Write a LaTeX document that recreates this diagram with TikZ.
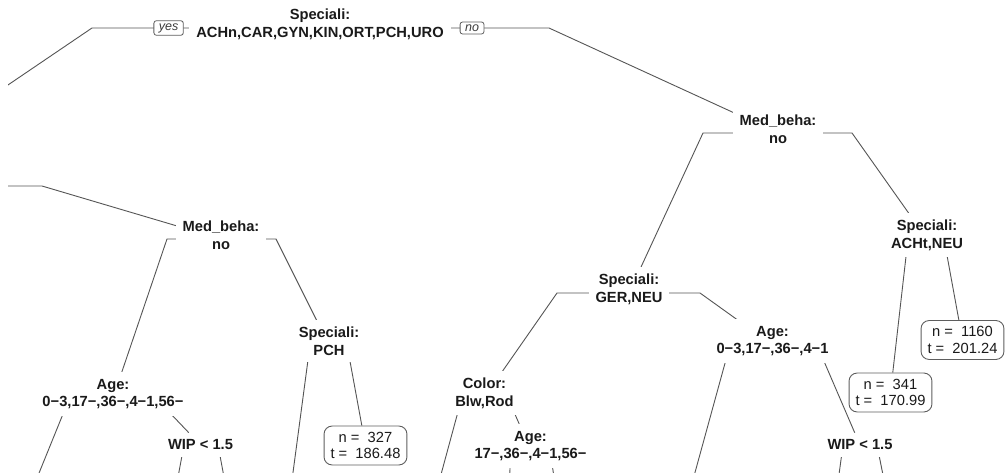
\documentclass[tikz,border=0pt]{standalone}
\usepackage{fontspec}
\setmainfont{Liberation Sans}
\usetikzlibrary{backgrounds}
\definecolor{ink}{HTML}{1A1A1A}
\definecolor{wire}{HTML}{555555}
\definecolor{frame}{HTML}{5E5E5E}
\definecolor{muted}{HTML}{3C3C3C}
\tikzset{
  every node/.style={text=ink},
  split/.style={fill=white, align=center, inner xsep=7pt, inner ysep=7pt,
    font=\bfseries\fontsize{14.7}{17.7}\selectfont},
  leaf/.style={draw=frame, fill=white, line width=0.9pt, rounded corners=8pt, align=center,
    inner xsep=6.5pt, inner ysep=6pt, font=\fontsize{14.7}{16.5}\selectfont},
  tag/.style={draw=frame, fill=white, line width=0.8pt, rounded corners=2.5pt,
    inner xsep=5pt, inner ysep=2.6pt, font=\itshape\fontsize{12.5}{14}\selectfont, text=muted},
  branch/.style={draw=wire, line width=0.9pt},
}

\begin{document}
\begin{tikzpicture}[x=1pt, y=-1pt]
  \useasboundingbox (0,0) rectangle (1005,473);

  % ---------------------------------------------------------------- splits
  \node[split] (root) at (320,24) {Speciali:\\ACHn,CAR,GYN,KIN,ORT,PCH,URO};

  \node[split] (medL) at (221,235) {Med\_beha:\\no};
  \node[split] (pchL) at (329,341) {Speciali:\\PCH};
  \node[split] (ageL) at (113,394) {Age:\\0−3,17−,36−,4−1,56−};
  \node[split] (wipL) at (200.5,445) {WIP < 1.5};

  \node[split] (medR) at (778,129) {Med\_beha:\\no};
  \node[split] (gerR) at (629,289) {Speciali:\\GER,NEU};
  \node[split] (achR) at (927,235) {Speciali:\\ACHt,NEU};
  \node[split] (colR) at (484.5,393) {Color:\\Blw,Rod};
  \node[split] (ageM) at (530.5,446) {Age:\\17−,36−,4−1,56−};
  \node[split] (ageR) at (772.5,341) {Age:\\0−3,17−,36−,4−1};
  \node[split] (wipR) at (860,445) {WIP < 1.5};

  % ---------------------------------------------------------------- leaves
  \node[leaf] (n327) at (365.5,445.5) {n = \ 327\\t = \ 186.48};
  \node[leaf] (n341) at (890.5,392.5) {n = \ 341\\t = \ 170.99};
  \node[leaf] (n1160) at (962.5,340) {n = \ 1160\\t = \ 201.24};

  % ---------------------------------------------------------------- branches
  \begin{pgfonlayer}{background}
    \fill[white] (0,0) rectangle (1005,473);
    \clip (8,0) rectangle (1005,473);
    \coordinate (offL) at (-141,186);

    \draw[branch] ([yshift=-4pt]root.center) -- node[tag, pos=0.664] {yes} (92,28) -- (offL);
    \draw[branch] ([yshift=-4pt]root.center) -- node[tag, pos=0.664] {no} (549,28) -- ([yshift=-4pt]medR.center);

    % left half
    \draw[branch] (offL) -- (42,186) -- ([yshift=-4pt]medL.center);
    \draw[branch] ([yshift=-4pt]medL.center) -- (167,239) -- ([yshift=-4pt]ageL.center);
    \draw[branch] ([yshift=-4pt]medL.center) -- (276,239) -- ([yshift=-4pt]pchL.center);
    \draw[branch] ([yshift=-4pt]pchL.center) -- (347,345) -- (n327);
    \draw[branch] ([yshift=-4pt]ageL.center) -- (155.7,398) -- (wipL);

    % right half
    \draw[branch] ([yshift=-4pt]medR.center) -- (703,133) -- ([yshift=-4pt]gerR.center);
    \draw[branch] ([yshift=-4pt]medR.center) -- (852,133) -- ([yshift=-4pt]achR.center);
    \draw[branch] ([yshift=-4pt]achR.center) -- (908,239) -- (n341);
    \draw[branch] ([yshift=-4pt]achR.center) -- (944,239) -- (n1160);
    \draw[branch] ([yshift=-4pt]gerR.center) -- (557,293) -- ([yshift=-4pt]colR.center);
    \draw[branch] ([yshift=-4pt]gerR.center) -- (700,293) -- ([yshift=-4pt]ageR.center);
    \draw[branch] ([yshift=-4pt]colR.center) -- (507.5,397) -- ([yshift=-4pt]ageM.center);
    \draw[branch] ([yshift=-4pt]ageR.center) -- (817,345) -- (wipR);

    % running out of the frame
    \foreach \src/\sy/\dx/\ex/\ey in {pchL/-4/-19/-34/255, ageR/-4/-42.5/-70/255,
        colR/-4/-22.5/-55/203, ageM/-4/-19.5/-8/150, ageM/-4/19.5/22/150,
        ageL/-4/-43.5/-82/202, wipL/0/-16.5/-29/155, wipL/0/17.5/29/155,
        wipR/0/-17/-21/155, wipR/0/17/31/155}
      \draw[branch] ([yshift=\sy pt]\src.center) -- ++(\dx,0) -- ++(\ex,\ey);
  \end{pgfonlayer}

\end{tikzpicture}
\end{document}
